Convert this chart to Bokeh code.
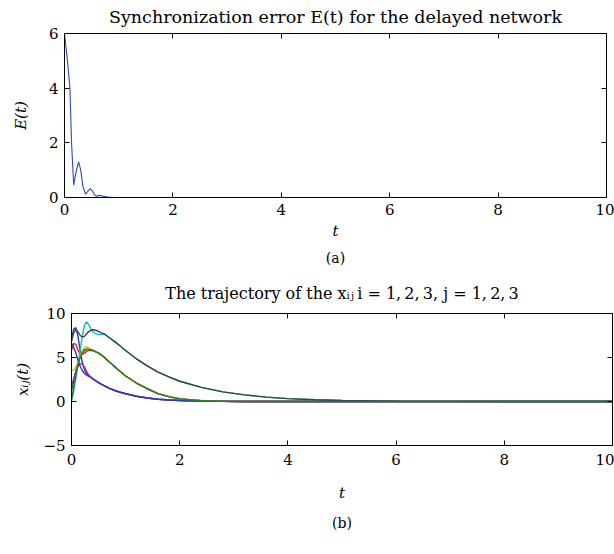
from bokeh.plotting import figure
from bokeh.models import LinearAxis, FixedTicker, Range1d, Title, CustomJSTickFormatter
from bokeh.layouts import column, row
from bokeh.embed import file_html
from bokeh.resources import INLINE

# ---------------- data ----------------
err_t = [0, 0.05, 0.1, 0.13, 0.17, 0.21, 0.26, 0.3, 0.34, 0.39, 0.44, 0.48, 0.52,
         0.56, 0.6, 0.65, 0.7, 0.8, 0.9, 10.0]
err_E = [6.0, 5.1, 4.0, 2.0, 0.45, 0.9, 1.3, 1.0, 0.4, 0.12, 0.25, 0.32, 0.22,
         0.08, 0.05, 0.08, 0.05, 0.02, 0.0, 0.0]

traj_t = [0, 0.04, 0.08, 0.12, 0.16, 0.2, 0.24, 0.28, 0.32, 0.36, 0.4, 0.45, 0.5, 0.55,
          0.6, 0.7, 0.8, 0.9, 1.0, 1.2, 1.4, 1.6, 1.8, 2.0, 2.4, 2.8, 3.2, 3.6, 4.0,
          4.5, 5.0, 6.0, 7.0, 10.0]

slow_tail = [7.7, 7.25, 6.8, 6.3, 5.8, 4.85, 4.05, 3.35, 2.8, 2.3, 1.6, 1.1, 0.75, 0.5,
             0.33, 0.2, 0.12, 0.04, 0.01, 0.0]
mid_tail = [5.05, 4.5, 3.95, 3.4, 2.9, 2.1, 1.45, 0.9, 0.55, 0.3, 0.08, 0.02, 0.0, 0.0,
            0.0, 0.0, 0.0, 0.0, 0.0, 0.0]
fast_tail = [1.8, 1.5, 1.25, 1.05, 0.88, 0.6, 0.4, 0.26, 0.17, 0.11, 0.045, 0.018, 0.006,
             0.0, 0.0, 0.0, 0.0, 0.0, 0.0, 0.0]

x_b1 = [7.2, 8.2, 8.4, 7.4, 5.8, 4.4, 3.6, 3.2, 2.95, 2.75, 2.55, 2.35, 2.15, 1.97] + fast_tail
x_g1 = [1.2, 2.3, 3.4, 4.4, 5.1, 5.6, 5.85, 5.95, 5.95, 5.9, 5.8, 5.65, 5.5, 5.3] + mid_tail
x_r = [5.8, 6.6, 6.5, 5.8, 5.4, 5.35, 5.5, 5.7, 5.8, 5.8, 5.75, 5.65, 5.5, 5.3] + mid_tail
x_c = [0.0, 1.2, 2.6, 4.2, 5.8, 7.4, 8.7, 9.05, 8.7, 8.2, 7.9, 7.7, 7.6, 7.6] + slow_tail
x_m = [1.8, 2.6, 3.4, 4.0, 4.3, 4.25, 3.9, 3.4, 3.0, 2.75, 2.55, 2.35, 2.15, 1.97] + fast_tail
x_y = [3.5, 3.6, 3.9, 4.5, 5.2, 5.8, 6.1, 6.2, 6.1, 5.95, 5.8, 5.65, 5.5, 5.3] + mid_tail
x_k = [6.8, 7.8, 8.2, 7.9, 7.5, 7.35, 7.4, 7.7, 7.95, 8.1, 8.15, 8.1, 7.95, 7.8] + slow_tail
x_b2 = [6.6, 6.2, 5.5, 4.7, 4.0, 3.5, 3.2, 3.0, 2.85, 2.7, 2.55, 2.35, 2.15, 1.97] + fast_tail
x_g2 = [0.2, 1.6, 3.0, 4.2, 5.0, 5.5, 5.8, 5.9, 5.9, 5.85, 5.8, 5.65, 5.5, 5.3] + mid_tail

traj_series = [x_b1, x_g1, x_r, x_c, x_m, x_y, x_k, x_b2, x_g2]
traj_colors = ["#1f3fbf", "#0a7a0a", "#ee1c1c", "#10bcbc", "#b31cb3", "#bdbd10",
               "#3a4048", "#2040b8", "#1f7f2a"]

x_ticks = [0, 2, 4, 6, 8, 10]
y_ticks_a = [0, 2, 4, 6]
y_ticks_b = [-5, 0, 5, 10]

title_a = "Synchronization error E(t) for the delayed network"
title_b = "The trajectory of the x\u1d62\u2c7c\u2009i = 1,\u20092,\u20093, j = 1,\u20092,\u20093"

FONT = "DejaVu Serif"
FS = "15px"


def style(p, xt, yt, xlabel, ylabel, tick_standoff_x, label_standoff_x,
          label_standoff_y, overrides=None):
    p.toolbar_location = None
    p.outline_line_color = "black"
    p.outline_line_width = 1
    p.xgrid.visible = False
    p.ygrid.visible = False
    p.background_fill_color = "white"
    p.border_fill_color = "white"
    xb = p.below[0]
    yl = p.left[0]
    xb.axis_label = xlabel
    yl.axis_label = ylabel
    for ax, ticks in ((xb, xt), (yl, yt)):
        ax.ticker = FixedTicker(ticks=ticks)
        ax.minor_tick_line_color = None
        ax.major_tick_in = 5
        ax.major_tick_out = 0
        ax.axis_line_color = "black"
        ax.major_tick_line_color = "black"
        ax.major_label_text_font = FONT
        ax.major_label_text_font_size = FS
        ax.major_label_text_color = "black"
        ax.axis_label_text_font = FONT
        ax.axis_label_text_font_size = FS
        ax.axis_label_text_font_style = "italic"
        ax.axis_label_text_color = "black"
    if overrides:
        yl.major_label_overrides = overrides
    xb.major_label_standoff = tick_standoff_x
    yl.major_label_standoff = 6
    xb.axis_label_standoff = label_standoff_x
    yl.axis_label_standoff = label_standoff_y
    blank = CustomJSTickFormatter(code="return ''")
    for loc, ticks in (("above", xt), ("right", yt)):
        a = LinearAxis(ticker=FixedTicker(ticks=ticks), formatter=blank)
        a.minor_tick_line_color = None
        a.major_tick_in = 5
        a.major_tick_out = 0
        a.major_label_standoff = 0
        a.axis_line_color = "black"
        p.add_layout(a, loc)


# ---------------- panel (a) ----------------
p1 = figure(frame_width=542, frame_height=164, output_backend="svg", toolbar_location=None,
            x_range=Range1d(0, 10), y_range=Range1d(0, 6),
            min_border_left=64, min_border_right=8, min_border_top=33,
            min_border_bottom=75)
p1.line(err_t, err_E, line_color="#2a4ab8", line_width=1.1)
style(p1, x_ticks, y_ticks_a, "t", "E(t)", 6, 4, 16)
t1 = Title(text=title_a, align="center", vertical_align="top",
           text_font=FONT, text_font_size="17.5px", text_font_style="normal",
           text_color="black", standoff=10)
p1.add_layout(t1, "above")
c1 = Title(text="(a)", align="center", text_font=FONT, text_font_size="14px",
           text_font_style="normal", text_color="black", standoff=11)
p1.add_layout(c1, "below")

# ---------------- panel (b) ----------------
p2 = figure(frame_width=541, frame_height=132, output_backend="svg", toolbar_location=None,
            x_range=Range1d(0, 10), y_range=Range1d(-5, 10),
            min_border_left=71, min_border_right=2, min_border_top=41,
            min_border_bottom=109)
for ys, col in zip(traj_series, traj_colors):
    p2.line(traj_t, ys, line_color=col, line_width=1.4)
style(p2, x_ticks, y_ticks_b, "t", "x\u1d62\u2c7c(t)", 8, 16, 8,
      overrides={-5: "\u22125"})
t2 = Title(text=title_b, align="center", vertical_align="top",
           text_font=FONT, text_font_size="16px", text_font_style="normal",
           text_color="black", standoff=17)
p2.add_layout(t2, "above")
c2 = Title(text="(b)", align="center", text_font=FONT, text_font_size="14px",
           text_font_style="normal", text_color="black", standoff=17)
p2.add_layout(c2, "below")

layout = column(row(p1), row(p2), spacing=0)
open("out.html", "w").write(file_html(layout, INLINE))
